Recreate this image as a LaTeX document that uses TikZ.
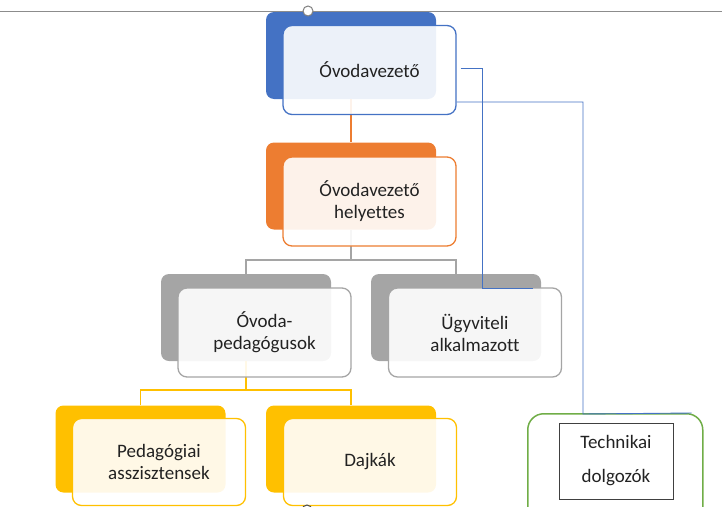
\documentclass[tikz,border=0pt]{standalone}
\usepackage{fontspec}
\setmainfont[Ligatures=NoCommon]{Carlito}
\definecolor{cblue}{HTML}{4472C4}
\definecolor{corange}{HTML}{ED7D31}
\definecolor{cgray}{HTML}{A5A5A5}
\definecolor{cyellow}{HTML}{FFC000}
\definecolor{cgreen}{HTML}{70AD47}
\definecolor{ctext}{HTML}{222222}
\tikzset{
  backbox/.style={draw=none, fill=#1, rounded corners=8pt, minimum width=170pt, minimum height=87pt, inner sep=0pt},
  frontbox/.style={draw=#1, line width=1.3pt, fill=white, fill opacity=0.9, text opacity=1, rounded corners=9pt, minimum width=173pt, minimum height=89pt, inner sep=0pt, text=ctext, font=\fontsize{19}{22}\selectfont, align=center},
  conn/.style={draw=#1, line width=1.4pt},
  bline/.style={draw=cblue, line width=0.9pt},
}
\begin{document}
\begin{tikzpicture}[x=1pt,y=-1pt]
\useasboundingbox (0,0) rectangle (722,506);
\clip (0,0) rectangle (722,506);
% top rule
\coordinate (rl) at (0,11);
\coordinate (rr) at (722,11);
\draw[gray!90, line width=0.8pt] (rl) -- (rr);
% back boxes
\node[backbox=cblue] (tb) at (351,55.5) {};
\node[backbox=corange] (ob) at (351,186) {};
\node[backbox=cgray] (gl) at (246,317.5) {};
\node[backbox=cgray] (gr) at (456,317.5) {};
\node[backbox=cyellow] (yl) at (140.5,449) {};
\node[backbox=cyellow] (yr) at (351,449) {};
% connectors
\coordinate (gbus) at (351,260);
\coordinate (ybus) at (246,390);
\draw[conn=corange] (tb.south) -- (ob.north);
\draw[conn=cgray] (ob.south) -- (gbus);
\draw[conn=cgray] (gl.north) |- (gbus) -| (gr.north);
\draw[conn=cyellow] (gl.south) -- (ybus);
\draw[conn=cyellow] (yl.north) |- (ybus) -| (yr.north);
% front boxes
\node[frontbox=cblue] (tf) at (369.5,70) {Óvodavezető};
\node[frontbox=corange] (of) at (369.5,201.5) {Óvodavezető\\helyettes};
\node[frontbox=cgray] (glf) at (264.5,332.5) {Óvoda-\\pedagógusok};
\node[frontbox=cgray] (grf) at (475,332.5) {Ügyviteli\\alkalmazott};
\node[frontbox=cyellow, minimum height=87pt] (ylf) at (159,462) {Pedagógiai\\asszisztensek};
\node[frontbox=cyellow, minimum height=87pt] (yrf) at (370,462) {Dajkák};
% green box
\node[draw=cgreen, line width=1.5pt, rounded corners=16pt, minimum width=175pt, minimum height=120pt, inner sep=0pt, anchor=north west] (gb) at (527,413) {};
\node[draw=black!75, line width=0.9pt, minimum width=114pt, minimum height=76pt, inner sep=0pt, text=ctext, font=\fontsize{19}{34}\selectfont, align=center] (tech) at (616,461) {Technikai\\dolgozók};
% blue connectors
\coordinate (bj) at (482,288);
\coordinate (be) at (533,288);
\coordinate (bk) at (583,102);
\coordinate (bm) at (583,414);
\draw[bline] ([xshift=4pt,yshift=2pt]tf.east) -| (bj) -- (be);
\draw[bline] ([yshift=-32pt]tf.east) -- (bk) -- (bm) -- ([xshift=-12pt]gb.north east);
% small circles
\node[circle, draw=gray, fill=white, line width=1pt, minimum size=10pt, inner sep=0pt] (c1) at (308,11) {};
\node[circle, draw=black!70, fill=white, line width=1pt, minimum size=10pt, inner sep=0pt] (c2) at (307,510) {};
\end{tikzpicture}
\end{document}
